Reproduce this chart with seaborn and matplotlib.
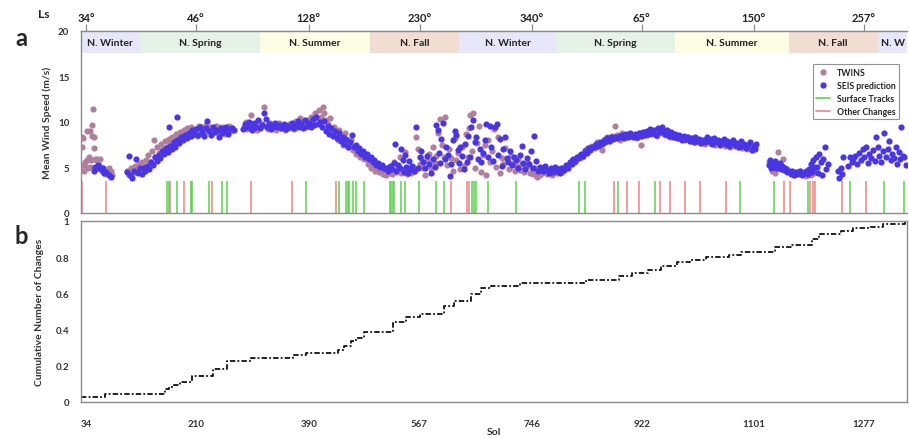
import numpy as np
import pandas as pd
import seaborn as sns
import matplotlib.pyplot as plt
from matplotlib.lines import Line2D

# ---- data ----
tick_sols = [34, 210, 390, 567, 746, 922, 1101, 1277]
tick_ls = ["34°", "46°", "128°", "230°", "340°", "65°", "150°", "257°"]

season_edges = [26, 120, 312, 488, 630, 785, 976, 1157, 1299, 1346]
season_names = ["N. Winter", "N. Spring", "N. Summer", "N. Fall",
                "N. Winter", "N. Spring", "N. Summer", "N. Fall", "N. W"]
season_colors = ["#e7e7f9", "#e6f1e7", "#fdfde6", "#f1ddd2",
                 "#e7e7f9", "#e6f1e7", "#fdfde6", "#f1ddd2", "#e7e7f9"]

twins_sol = [26, 27, 28, 29, 30, 31, 33, 35, 36, 37, 38, 40, 41, 42, 43, 44, 45, 46, 47, 48,
             49, 50, 52, 54, 56, 58, 60, 63, 66, 70, 74, 75,
             100, 103, 106, 109, 112, 115, 118, 121, 124, 127, 130, 133, 136, 139, 142, 145,
             148, 151, 154, 157, 160, 163, 166, 169, 172, 175, 178, 181, 184, 187, 190, 193,
             196, 199, 202, 205, 208, 211, 214, 217, 220, 223, 226, 229, 232, 235, 238, 241,
             244, 247, 250, 253, 256, 259, 262, 265, 268,
             286, 289, 292, 295, 298, 301, 304, 307, 310, 313, 316, 319, 322, 325, 328, 331,
             334, 337, 340, 343, 346, 349, 352, 355, 358, 361, 364, 367, 370, 373, 376, 379,
             382, 385, 388, 391, 394, 397, 400, 403, 406, 409, 412, 415, 418,
             421, 424, 427, 430, 433, 436, 439, 442, 445, 448, 451, 454, 457, 460, 463, 466,
             469, 472, 475, 478, 481, 484, 487, 490, 493, 496, 499, 502, 505, 508, 511, 514,
             517, 520, 523, 526, 529, 532, 535, 538, 541, 544, 547, 550, 553,
             556, 559, 562, 564, 567, 570, 573, 576, 579, 582, 585, 588, 591, 594, 597, 600,
             603, 606, 608, 611, 614, 617, 620, 623, 626, 629, 632, 635, 638, 641, 644, 646,
             648, 651, 653, 656, 659, 662, 665, 668, 671, 674, 677, 680, 683, 686, 689, 692,
             695, 698, 701, 704, 707, 710, 713, 716, 719, 722, 725, 728, 731, 734, 737, 740,
             743, 746, 749, 752, 754, 757, 760,
             763, 767, 771, 775, 779, 783, 787, 791, 795, 799, 803, 807, 811, 815, 819, 823,
             827, 831, 835, 839, 843, 847, 851, 855, 859, 863, 867, 871, 875, 879, 880, 883,
             887, 891, 899, 903, 907, 911, 915, 919, 921, 923, 927, 931, 935, 939, 943, 947,
             951, 955, 959, 963, 967, 971, 975, 979, 983, 987, 991, 995, 999, 1003, 1007, 1011,
             1015, 1019, 1023, 1027, 1031, 1035, 1039, 1043, 1047, 1051, 1055, 1059, 1063,
             1067, 1071, 1075, 1079, 1083, 1087, 1091, 1095, 1099, 1103,
             1126, 1130, 1135, 1140, 1143, 1148, 1155, 1160, 1165, 1170, 1175, 1180, 1185,
             1188, 1192, 1195, 1198]
twins_ws = [4.7, 8.3, 7.3, 8.2, 5.3, 4.6, 5.6, 9.0, 5.8, 4.9, 6.1, 9.0, 5.1, 5.8, 8.5, 9.7, 11.4, 8.4, 7.1, 5.9,
            5.0, 5.8, 5.9, 5.3, 5.9, 5.0, 4.6, 4.4, 4.3, 5.0, 4.6, 4.2,
            4.6, 4.2, 5.0, 4.4, 5.2, 4.7, 5.4, 4.9, 5.6, 5.1, 5.8, 6.4, 5.6, 6.8, 8.0, 6.2,
            7.2, 6.6, 7.6, 7.0, 7.9, 7.3, 8.1, 7.6, 8.4, 7.8, 8.7, 8.1, 8.9, 8.4, 9.1, 8.6,
            9.3, 8.8, 9.5, 8.9, 9.2, 8.5, 9.6, 9.0, 9.4, 8.7, 9.7, 9.1, 9.5, 8.8, 9.3, 9.6,
            8.9, 9.4, 9.0, 9.5, 8.7, 9.2, 9.6, 9.0, 9.3,
            9.5, 10.0, 9.2, 9.7, 10.8, 9.3, 9.8, 9.1, 10.0, 9.4, 9.8, 11.7, 9.6, 9.2, 9.9, 9.4,
            9.7, 9.1, 9.6, 9.9, 9.3, 9.6, 9.1, 9.5, 9.8, 9.3, 9.7, 9.2, 10.1, 9.6, 10.4, 9.7,
            10.0, 9.4, 10.2, 9.8, 10.6, 10.1, 11.0, 10.4, 11.3, 10.6, 11.7, 11.0, 10.2,
            9.8, 10.4, 9.0, 9.5, 8.6, 8.0, 9.1, 8.3, 7.5, 8.8, 7.8, 7.2, 8.0, 6.9, 7.4, 6.5,
            7.0, 6.2, 6.6, 5.9, 6.3, 5.4, 5.8, 4.9, 5.3, 4.6, 5.1, 4.5, 4.8, 4.3, 4.6, 4.2,
            4.5, 4.8, 4.3, 5.6, 4.5, 4.9, 6.1, 4.4, 4.7, 6.7, 4.3, 4.9, 4.4,
            5.1, 4.6, 8.3, 7.0, 5.4, 6.0, 4.9, 4.2, 5.8, 6.5, 5.0, 7.2, 5.5, 6.3, 8.8, 10.3,
            7.5, 6.1, 10.5, 5.3, 7.0, 6.0, 4.6, 8.2, 5.8, 6.6, 4.8, 7.3, 5.2, 8.7, 6.2, 9.3,
            10.8, 6.8, 11.0, 5.0, 7.7, 9.6, 4.5, 6.4, 7.5, 4.2, 8.0, 5.6, 6.8, 9.2, 5.1, 8.3,
            4.4, 6.0, 5.4, 7.1, 5.9, 4.8, 6.3, 5.5, 4.6, 5.2, 5.9, 4.7, 5.4, 4.5, 5.1, 5.5,
            4.4, 4.9, 4.3, 5.0, 4.0, 4.5, 4.2,
            4.4, 4.8, 4.3, 4.6, 4.2, 4.7, 4.4, 4.9, 4.5, 5.0, 5.2, 5.4, 5.8, 5.6, 6.1, 6.4,
            6.2, 6.9, 6.7, 7.2, 7.4, 7.1, 7.8, 7.5, 6.9, 8.1, 8.3, 7.9, 8.5, 8.2, 9.6, 8.6,
            8.0, 8.8, 8.4, 8.7, 8.3, 8.6, 8.2, 8.8, 7.5, 8.5, 8.9, 8.6, 9.0, 8.7, 8.9, 8.5,
            9.1, 8.8, 8.6, 8.9, 8.4, 8.7, 8.3, 8.5, 8.1, 8.4, 8.0, 8.3, 7.9, 8.1, 7.8, 8.0,
            7.7, 7.9, 7.6, 8.0, 7.7, 7.9, 7.5, 7.8, 7.6, 7.9, 7.4, 7.7, 7.3,
            7.6, 7.4, 7.2, 7.6, 7.1, 7.4, 7.0, 7.3, 6.9, 7.2,
            5.6, 4.6, 4.4, 6.7, 5.2, 5.9, 4.8, 4.4, 4.2, 4.5, 4.6, 4.3, 4.1,
            4.6, 4.2, 5.2, 4.4]

seis_sol = [47, 49, 51, 53, 55, 57, 59, 61, 63, 66, 70, 74,
            99, 102, 105, 108, 111, 114, 117, 120, 123, 126, 129, 132, 135, 138, 141, 144,
            147, 150, 153, 156, 159, 162, 165, 167, 168, 171, 174, 177, 179, 180, 183, 186,
            189, 192, 195, 198, 201, 204, 207, 210, 213, 216, 219, 222, 225, 228, 231, 234,
            237, 240, 243, 246, 249, 252, 255, 258, 261, 264, 267, 270,
            285, 288, 291, 294, 297, 300, 303, 306, 309, 312, 315, 318, 321, 324, 327, 330,
            333, 336, 339, 342, 345, 348, 351, 354, 357, 360, 363, 366, 369, 372, 375, 378,
            381, 384, 387, 390, 393, 396, 399, 402, 405, 408,
            411, 414, 417, 420, 423, 426, 429, 432, 435, 438, 441, 444, 447, 450, 453, 456,
            459, 462, 465, 468, 471, 474, 477, 480, 483, 486, 489, 492, 495, 498, 501, 504,
            507, 510,
            511, 514, 517, 520, 523, 526, 528, 530, 533, 536, 538, 540, 542, 544, 546, 548,
            550, 552, 555, 558, 562, 564, 567, 570, 573, 576, 579, 582, 585, 588, 591, 594,
            596, 598, 600, 602, 605, 607, 610, 612, 615, 617, 620, 623, 625, 628, 630, 632,
            635, 638, 640, 643, 645, 648, 650, 653, 655, 658, 660, 663, 665, 668, 671, 674,
            676, 679, 682, 684, 687, 690, 692, 695, 698, 700, 703, 706, 709, 712, 715, 718,
            721, 724, 727, 730, 733, 736, 739, 742, 745, 748, 750, 753, 756, 759,
            762, 765, 768, 771, 774, 777, 780, 783, 786, 789, 792, 795, 798, 801, 804, 807,
            810, 813, 816, 819, 822, 825, 828, 831, 834, 837, 840, 843, 846, 849, 852, 855,
            858, 861, 864, 867, 870, 873, 876, 879, 882, 885, 888, 891, 894, 897, 900, 903,
            906, 909, 912, 915, 918, 921, 924, 927, 930, 933, 936, 939, 942, 945, 948, 951,
            954, 957, 960, 963, 966, 969, 972, 975, 978, 981, 984, 987, 990, 993, 996, 999,
            1002, 1005, 1008, 1011, 1014, 1017, 1020, 1023, 1026, 1029, 1032, 1035, 1038,
            1041, 1044, 1047, 1050, 1053, 1056, 1059, 1062, 1065, 1068, 1071, 1074, 1077,
            1080, 1083, 1086, 1089, 1092, 1095, 1098, 1101, 1103, 1105,
            1125, 1127, 1129, 1131, 1133, 1135, 1137, 1139, 1141, 1143, 1145, 1147, 1149,
            1151, 1154, 1157, 1160, 1163, 1166, 1169, 1172, 1175, 1178, 1181, 1184, 1187,
            1190, 1192, 1194, 1196, 1198, 1200, 1202, 1204, 1206, 1208, 1210, 1212, 1215,
            1217, 1220, 1235, 1238, 1240, 1242, 1244,
            1252, 1255, 1258, 1260, 1263, 1266, 1269, 1272, 1275, 1278, 1281, 1284, 1286,
            1289, 1292, 1295, 1297, 1300, 1302, 1305, 1307, 1310, 1312, 1315, 1318, 1320,
            1322, 1325, 1328, 1330, 1333, 1335, 1337, 1339, 1342, 1344]
seis_ws = [4.6, 5.1, 4.9, 5.3, 5.0, 4.9, 4.7, 5.0, 4.4, 4.5, 4.2, 4.0,
           4.5, 6.3, 4.2, 3.8, 4.6, 5.9, 4.4, 4.9, 4.3, 5.0, 4.6, 5.2, 4.8, 5.6, 5.3, 6.1,
           5.7, 6.4, 6.0, 6.8, 6.5, 7.1, 6.7, 9.4, 7.4, 7.0, 7.8, 7.3, 10.5, 8.0, 7.7, 8.3,
           8.0, 8.6, 8.2, 8.8, 8.5, 9.1, 8.7, 9.2, 8.6, 9.4, 8.9, 8.5, 9.3, 10.1, 9.0, 8.6,
           9.4, 8.9, 9.1, 8.4, 9.3, 8.8, 9.0, 9.4, 8.7, 9.2, 9.3, 9.1,
           9.2, 9.8, 9.4, 10.0, 9.6, 9.1, 9.9, 9.5, 10.2, 9.3, 9.7, 11.0, 10.3, 9.4, 9.8, 9.2,
           9.6, 9.9, 9.4, 9.7, 9.3, 9.5, 9.8, 9.2, 9.6, 9.4, 9.9, 9.3, 9.7, 10.1, 9.5, 9.8,
           9.3, 10.2, 9.6, 9.9, 9.4, 10.3, 9.7, 10.5, 9.8, 10.0,
           9.4, 10.1, 9.0, 9.6, 8.7, 9.3, 8.5, 9.0, 8.2, 8.8, 7.9, 8.4, 7.6, 8.1, 7.3, 7.8,
           8.6, 7.2, 7.5, 6.8, 7.1, 6.5, 6.8, 6.2, 6.5, 5.9, 6.1, 5.6, 5.8, 5.3, 5.5, 5.1,
           5.3, 4.9,
           4.9, 5.0, 4.6, 5.2, 4.8, 5.5, 7.6, 4.6, 5.3, 4.9, 7.0, 5.8, 4.5, 6.4, 5.1, 4.4,
           5.7, 4.8, 5.2, 4.6, 9.4, 5.0, 6.2, 6.8, 5.6, 4.9, 6.3, 5.4, 4.4, 5.9, 5.1, 9.7,
           9.1, 6.6, 5.5, 8.1, 9.9, 5.9, 7.2, 6.4, 4.1, 5.4, 8.0, 9.0, 8.6, 6.9, 5.5, 7.2,
           6.3, 4.8, 7.6, 5.6, 8.5, 6.1, 9.4, 10.2, 7.8, 8.3, 5.9, 7.0, 5.6, 6.6, 8.0, 9.8,
           6.2, 9.6, 7.2, 5.7, 9.5, 9.8, 6.4, 8.1, 5.2, 7.0, 8.4, 6.0, 5.6, 6.8, 5.3, 6.2,
           5.8, 5.0, 6.4, 7.4, 5.5, 4.8, 6.0, 5.4, 6.8, 4.9, 8.5, 5.7, 4.6, 5.1,
           5.0, 4.6, 5.2, 4.7, 4.4, 4.9, 4.5, 5.1, 4.6, 4.8, 4.4, 5.0, 4.7, 5.3, 5.0, 5.6,
           5.4, 5.9, 5.7, 6.2, 6.0, 6.5, 6.3, 6.8, 6.6, 7.1, 6.9, 7.3, 7.2, 7.6, 7.4, 7.8,
           7.6, 8.0, 7.8, 8.2, 7.9, 8.3, 8.1, 8.4, 8.2, 8.5, 8.3, 8.6, 8.2, 8.7, 8.4, 8.8,
           8.5, 8.3, 8.7, 8.4, 8.8, 8.5, 8.9, 8.6, 9.0, 8.7, 9.2, 8.8, 9.1, 8.6, 9.3, 8.9,
           9.4, 9.0, 8.7, 9.1, 8.5, 8.9, 8.4, 8.7, 8.2, 8.6, 8.3, 8.0, 8.5, 8.1, 8.4, 7.9,
           8.2, 7.8, 8.3, 7.9, 8.1, 7.7, 8.0, 7.8, 8.3, 7.9, 8.1, 7.6, 8.2,
           7.8, 8.0, 7.5, 7.9, 8.1, 7.6, 7.9, 7.4, 7.8, 8.0, 7.5, 7.7, 7.3,
           7.9, 7.4, 7.6, 7.1, 7.5, 7.8, 6.9, 7.4, 7.0, 7.6,
           5.3, 5.8, 5.0, 5.5, 5.1, 5.7, 4.9, 5.4, 5.0, 5.5, 4.8, 5.2, 4.7,
           4.9, 4.5, 4.6, 4.3, 4.6, 4.2, 4.5, 4.3, 4.6, 4.2, 4.4, 4.6, 4.3,
           4.8, 5.4, 4.5, 5.8, 4.9, 6.2, 5.1, 4.4, 6.5, 5.6, 4.2, 5.9, 7.2,
           4.8, 5.4, 4.6, 3.9, 5.0, 4.3, 6.2,
           5.2, 6.2, 5.6, 5.9, 6.3, 5.4, 6.6, 5.8, 7.0, 6.1, 7.2, 5.5, 6.5,
           6.0, 6.9, 5.7, 8.3, 7.2, 6.3, 5.6, 6.8, 8.8, 6.1, 7.0, 7.9, 5.8,
           6.5, 6.0, 7.2, 5.4, 6.7, 5.9, 9.4, 6.3, 6.2, 5.3]

track_sols = [164, 166, 179, 202, 204, 230, 252, 259, 386, 439, 449, 452, 455, 460, 466,
              478, 520, 522, 524, 526, 537, 544, 566, 594, 606, 651, 654, 657, 676, 721,
              822, 832, 884, 943, 1079, 1133, 1188, 1255, 1309, 1342]
other_sols = [27, 66, 168, 190, 236, 297, 363, 433, 618, 643, 646, 877, 899, 918, 952,
              968, 991, 1016, 1057, 1149, 1159, 1191, 1195, 1199, 1242, 1281]

cum_sol = [26, 64, 161, 166, 175, 185, 203, 237, 260, 297, 364, 385, 436, 446, 457, 466,
           479, 525, 546, 567, 606, 622, 650, 665, 682, 728, 833, 885, 906, 932, 953, 978,
           999, 1025, 1061, 1081, 1135, 1163, 1194, 1205, 1241, 1259, 1283, 1308, 1343, 1346]
cum_frac = [0.029, 0.042, 0.07, 0.084, 0.095, 0.11, 0.143, 0.185, 0.229, 0.242, 0.257,
            0.27, 0.29, 0.31, 0.335, 0.356, 0.385, 0.44, 0.47, 0.488, 0.528, 0.558, 0.598,
            0.628, 0.642, 0.657, 0.672, 0.697, 0.712, 0.727, 0.754, 0.772, 0.785, 0.8,
            0.813, 0.828, 0.855, 0.87, 0.9, 0.928, 0.947, 0.96, 0.969, 0.983, 1.0, 1.0]

# ---- styling ----
sns.set_style("white")
plt.rcParams['font.family'] = ['Lato', 'DejaVu Sans']
twins_c = "#b0809a"
seis_c = "#4a35e4"
green_c = "#5fd04f"
red_c = "#e98585"
spine_c = "#8a8a8a"
lab_c = "#333333"

fig = plt.figure(figsize=(9.09, 4.39), dpi=100)
ax = fig.add_axes([81 / 909, 1 - 214 / 439, 826 / 909, 182 / 439])
axb = fig.add_axes([81 / 909, 1 - 403 / 439, 826 / 909, 181 / 439])
xlim = (26, 1346)

# panel a
df_t = pd.DataFrame({"sol": twins_sol, "ws": twins_ws})
df_s = pd.DataFrame({"sol": seis_sol, "ws": seis_ws})
sns.scatterplot(data=df_t, x="sol", y="ws", ax=ax, color=twins_c, s=20, linewidth=0, zorder=3)
sns.scatterplot(data=df_s, x="sol", y="ws", ax=ax, color=seis_c, s=20, linewidth=0, zorder=4)
ax.vlines(track_sols, 0, 3.5, color=green_c, lw=1.1, zorder=2)
ax.vlines(other_sols, 0, 3.5, color=red_c, lw=1.1, zorder=2)

for i, name in enumerate(season_names):
    x0, x1 = season_edges[i], season_edges[i + 1]
    ax.fill_between([x0, x1], 17.55, 20, color=season_colors[i], lw=0, zorder=1)
    if i < len(season_names) - 1:
        ax.text((x0 + x1) / 2, 18.75, name, ha="center", va="center", fontsize=7.5,
                fontweight="bold", color="#222222", zorder=5)
    else:
        ax.text(x0 + 6, 18.75, name, ha="left", va="center", fontsize=7.5,
                fontweight="bold", color="#222222", zorder=5)

ax.set_xlim(*xlim)
ax.set_ylim(0, 20)
ax.set_yticks([0, 5, 10, 15, 20])
ax.set_xticks(tick_sols)
ax.set_xticklabels([])
ax.set_xlabel("")
ax.set_ylabel("Mean Wind Speed (m/s)", fontsize=7.5, fontweight="bold", color=lab_c, labelpad=4)
ax.tick_params(axis="both", direction="out", length=5, width=0.9, color=spine_c,
               labelsize=7, labelcolor=lab_c)
ax.tick_params(axis="x", length=8)
for lab in ax.get_yticklabels():
    lab.set_fontweight("bold")
for side in ["left", "bottom", "top"]:
    ax.spines[side].set_color(spine_c)
    ax.spines[side].set_linewidth(1.0)
ax.spines["right"].set_visible(False)

top = ax.secondary_xaxis("top")
top.set_xticks(tick_sols)
top.set_xticklabels(tick_ls, fontsize=8, fontweight="bold", color="#222222")
top.tick_params(direction="out", length=5, width=0.9, color=spine_c, pad=1)
top.spines["top"].set_color(spine_c)

handles = [Line2D([], [], marker="o", ls="", color=twins_c, ms=3.5),
           Line2D([], [], marker="o", ls="", color=seis_c, ms=3.5),
           Line2D([], [], color=green_c, lw=1.2),
           Line2D([], [], color=red_c, lw=1.2)]
leg = ax.legend(handles, ["TWINS", "SEIS prediction", "Surface Tracks", "Other Changes"],
                loc="upper right", bbox_to_anchor=(0.996, 0.84),
                frameon=True, fancybox=False, handlelength=1.6, handletextpad=0.8,
                borderpad=0.4, labelspacing=0.45, prop={"weight": "bold", "size": 6.3})
leg.get_frame().set_edgecolor("#777777")
leg.get_frame().set_linewidth(0.8)

# panel b
df_c = pd.DataFrame({"sol": cum_sol, "frac": cum_frac})
sns.lineplot(data=df_c, x="sol", y="frac", ax=axb, color="#111111", lw=1.3,
             drawstyle="steps-post", linestyle=(0, (3, 1.2, 1, 1.2)))
axb.set_xlim(*xlim)
axb.set_ylim(0, 1)
axb.set_xticks(tick_sols)
axb.set_xticklabels([str(s) for s in tick_sols])
axb.set_yticks([0, 0.2, 0.4, 0.6, 0.8, 1])
axb.set_yticklabels(["0", "0.2", "0.4", "0.6", "0.8", "1"])
axb.set_xlabel("")
axb.set_ylabel("Cumulative Number of Changes", fontsize=7.5, fontweight="bold",
               color=lab_c, labelpad=8)
axb.tick_params(axis="both", direction="out", length=5, width=0.9, color=spine_c,
                labelsize=7, labelcolor=lab_c)
axb.tick_params(axis="x", length=8, pad=4)
for lab in axb.get_xticklabels() + axb.get_yticklabels():
    lab.set_fontweight("bold")
for side in ["left", "bottom", "top", "right"]:
    axb.spines[side].set_color(spine_c)
    axb.spines[side].set_linewidth(1.0)

fig.text(494 / 909, 1 - 433 / 439, "Sol", fontsize=7.5, fontweight="bold", color=lab_c,
         ha="center", va="center")
fig.text(15 / 909, 1 - 38 / 439, "a", fontsize=17, fontweight="bold", va="center")
fig.text(15 / 909, 1 - 237 / 439, "b", fontsize=17, fontweight="bold", va="center")
fig.text(38 / 909, 1 - 15 / 439, "Ls", fontsize=8.5, fontweight="bold", va="center",
         color="#222222")

fig.savefig("out.png", dpi=100)
